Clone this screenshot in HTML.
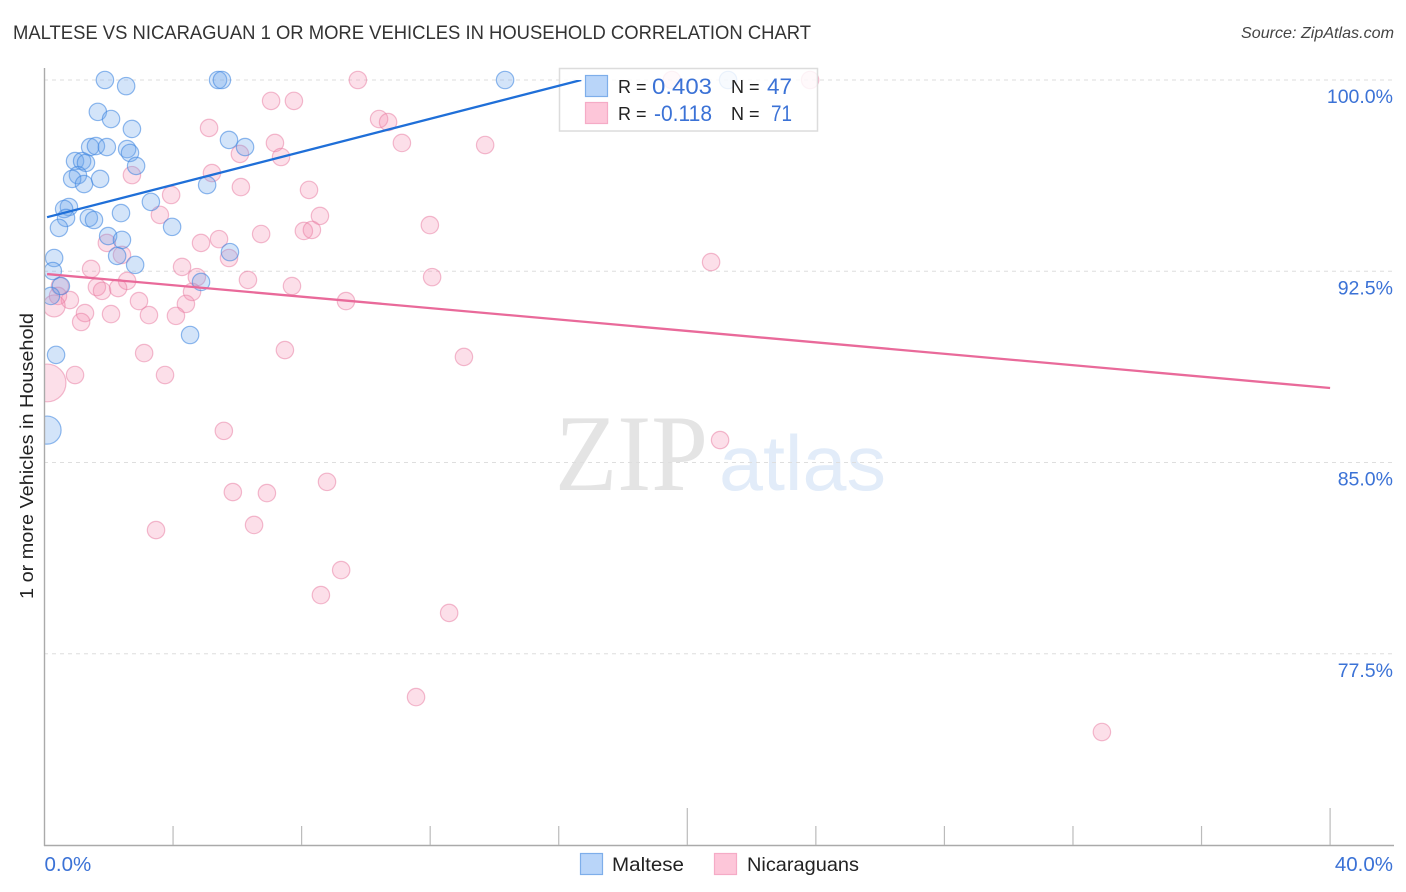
<!DOCTYPE html>
<html lang="en">
<head>
<meta charset="utf-8">
<title>Maltese vs Nicaraguan 1 or More Vehicles in Household Correlation Chart</title>
<style>
  html, body { margin: 0; padding: 0; background: #fff; }
  svg { display: block; font-family: "Liberation Sans", sans-serif; }
</style>
</head>
<body>
<svg id="chart" width="1406" height="892" viewBox="0 0 1406 892" xmlns="http://www.w3.org/2000/svg">
  <defs>
    <clipPath id="plot-clip"><rect x="44" y="60" width="1350" height="785"></rect></clipPath>
    <clipPath id="trend-clip"><rect x="44" y="80" width="1350" height="765"></rect></clipPath>
  </defs>
  <text x="13" y="39" font-size="19" fill="#333" textLength="798" lengthAdjust="spacingAndGlyphs">MALTESE VS NICARAGUAN 1 OR MORE VEHICLES IN HOUSEHOLD CORRELATION CHART</text>
  <text x="1241" y="38" font-size="16" font-style="italic" fill="#444" textLength="153" lengthAdjust="spacingAndGlyphs">Source: ZipAtlas.com</text>

  <g>
    <text x="555" y="490" font-family="'Liberation Serif', serif" font-size="109" fill="#e4e4e4" textLength="153" lengthAdjust="spacingAndGlyphs">ZIP</text>
    <text x="719" y="490" font-size="78" fill="#e2ecf9" textLength="167" lengthAdjust="spacingAndGlyphs">atlas</text>
  </g>

  <g id="grid"></g>
  <g id="points" clip-path="url(#plot-clip)"></g>

  <g>
    <rect x="559.5" y="68.5" width="258" height="62.5" fill="#fff" fill-opacity="0.82" stroke="#dcdcdc" stroke-width="1.5"></rect>
    <rect x="585.5" y="75.5" width="22" height="21" fill="#b9d5f9" stroke="#7eaeea" stroke-width="1.2"></rect>
    <rect x="585.5" y="102.5" width="22" height="21" fill="#fdc6d9" stroke="#f5abc6" stroke-width="1.2"></rect>
    <text x="618" y="93" font-size="18" fill="#222">R =</text>
    <text x="652" y="94" font-size="22" fill="#3b72d6" textLength="60" lengthAdjust="spacingAndGlyphs">0.403</text>
    <text x="731" y="93" font-size="18" fill="#222">N =</text>
    <text x="767" y="94" font-size="22" fill="#3b72d6" textLength="25" lengthAdjust="spacingAndGlyphs">47</text>
    <text x="618" y="120" font-size="18" fill="#222">R =</text>
    <text x="654" y="121" font-size="22" fill="#3b72d6" textLength="58" lengthAdjust="spacingAndGlyphs">-0.118</text>
    <text x="731" y="120" font-size="18" fill="#222">N =</text>
    <text x="771" y="121" font-size="22" fill="#3b72d6" textLength="21" lengthAdjust="spacingAndGlyphs">71</text>
  </g>

  <g id="trends" clip-path="url(#trend-clip)"></g>
  <g id="axes"></g>

  <text transform="translate(33,456) rotate(-90)" font-size="18.5" fill="#222" text-anchor="middle" textLength="286" lengthAdjust="spacingAndGlyphs">1 or more Vehicles in Household</text>

  <g>
    <rect x="580.5" y="853.5" width="22" height="21" fill="#b9d5f9" stroke="#7eaeea" stroke-width="1.2"></rect>
    <text x="612" y="871" font-size="19.5" fill="#222" textLength="72" lengthAdjust="spacingAndGlyphs">Maltese</text>
    <rect x="714.5" y="853.5" width="22" height="21" fill="#fdc6d9" stroke="#f5abc6" stroke-width="1.2"></rect>
    <text x="747" y="871" font-size="19.5" fill="#222" textLength="112" lengthAdjust="spacingAndGlyphs">Nicaraguans</text>
  </g>
</svg>

<script>
const maltesePct = [1.88,2.54,1.66,2.07,2.72,5.40,5.52,14.33,21.27,5.74,6.24,1.42,1.60,1.94,2.57,2.66,2.85,0.95,1.17,1.29,1.04,0.86,1.23,1.73,5.06,3.31,2.38,0.76,0.61,0.67,0.45,1.38,1.54,3.97,1.98,2.41,2.26,2.82,0.30,0.26,5.77,0.51,4.87,0.20,4.53,0.36,0.08];
const malteseVehicles = [100,99.76,98.75,98.47,98.08,100,100,100,100,97.65,97.37,97.37,97.41,97.37,97.29,97.14,96.63,96.82,96.82,96.75,96.27,96.12,95.92,96.12,95.88,95.22,94.78,95.02,94.94,94.59,94.20,94.59,94.51,94.24,93.88,93.73,93.10,92.75,93.02,92.51,93.25,91.92,92.08,91.53,90.00,89.22,86.27];
const malteseWeights = {46: 2.6};

const nicaraguanPct = [2.72,7.05,7.76,5.12,7.17,7.36,6.08,5.21,6.11,3.94,3.59,6.74,4.87,5.43,1.94,2.41,5.74,4.28,1.45,4.74,6.33,7.70,2.57,1.63,1.79,2.29,4.59,0.48,0.42,0.79,2.94,4.40,1.26,2.07,3.25,4.09,1.14,0.30,3.10,7.48,0.08,0.95,3.75,9.75,19.52,23.82,10.41,10.69,11.12,13.71,8.57,11.99,8.23,20.74,9.38,12.06,13.05,5.58,21.02,5.86,6.92,8.79,3.47,6.52,9.23,8.60,12.59,11.56,32.90,8.07,8.32];
const nicaraguanVehicles = [96.27,99.18,99.18,98.12,97.53,96.98,97.10,96.35,95.80,95.49,94.71,93.96,93.61,93.76,93.61,93.14,93.02,92.67,92.59,92.27,92.16,91.92,92.12,91.88,91.73,91.84,91.69,91.92,91.53,91.37,91.33,91.22,90.86,90.82,90.78,90.75,90.51,91.14,89.29,89.41,88.12,88.43,88.43,100,100,100,98.47,98.35,97.53,97.45,94.67,94.31,95.69,92.86,91.33,92.27,89.14,86.24,85.88,83.84,83.80,84.24,82.35,82.55,80.78,79.80,79.10,75.80,74.43,94.08,94.12];
const nicaraguanWeights = {37: 1.6, 40: 4.7};

const malteseTrendX = [0.08, 16.7];
const malteseTrendY = [94.62, 100];
const nicaraguanTrendX = [0.08, 40];
const nicaraguanTrendY = [92.39, 87.92];

const yTickValues = [100, 92.5, 85, 77.5];
const yTickLabels = ["100.0%", "92.5%", "85.0%", "77.5%"];
const xTickValues = [4, 8, 12, 16, 20, 24, 28, 32, 36, 40];
const xMajorTicks = [20, 40];
const xEndValues = [0, 40];
const xEndLabels = ["0.0%", "40.0%"];

const SVG_NS = "http://www.w3.org/2000/svg";
function xScale(v) { return 44.5 + v * 32.14; }
function yScale(v) { return 80 + (100 - v) * 25.5; }
function make(tag, attrs, parent) {
  const el = document.createElementNS(SVG_NS, tag);
  for (const k in attrs) el.setAttribute(k, attrs[k]);
  parent.appendChild(el);
  return el;
}

const gridLayer = document.getElementById("grid");
const axesLayer = document.getElementById("axes");
const pointLayer = document.getElementById("points");
const trendLayer = document.getElementById("trends");

yTickValues.forEach(function (v, i) {
  const line = make("line", {x1: 44, x2: 1394, y1: yScale(v), y2: yScale(v), stroke: "#dedede", "stroke-width": 1, "stroke-dasharray": "4 4"}, gridLayer);
  
  
  const label = make("text", {x: 1393, y: yScale(v) + 23, "font-size": 19.5, fill: "#3b72d6", "text-anchor": "end"}, axesLayer);
  
  
  label.textContent = yTickLabels[i];
});

const yAxis = make("line", {x1: 44.5, x2: 44.5, y1: 68, y2: 846, stroke: "#aaa", "stroke-width": 1.4}, axesLayer);


const xAxis = make("line", {x1: 44, x2: 1394, y1: 845.5, y2: 845.5, stroke: "#aaa", "stroke-width": 1.4}, axesLayer);



xTickValues.forEach(function (v) {
  const top = xMajorTicks.indexOf(v) >= 0 ? 808 : 826;
  const tick = make("line", {x1: xScale(v), x2: xScale(v), y1: top, y2: 845, stroke: "#bbb", "stroke-width": 1.2}, axesLayer);
  
  
});

xEndValues.forEach(function (v, i) {
  const isLast = i === xEndValues.length - 1;
  const label = make("text", {x: isLast ? 1393 : xScale(v), y: 871, "font-size": 20.5, fill: "#3b72d6", "text-anchor": isLast ? "end" : "start"}, axesLayer);
  
  
  label.textContent = xEndLabels[i];
});

function radius(weights, i) {
  const w = weights[i] || 1;
  return 8.7 * Math.sqrt(w);
}

nicaraguanPct.forEach(function (v, i) {
  const dot = make("circle", {cx: xScale(v), cy: yScale(nicaraguanVehicles[i]), r: radius(nicaraguanWeights, i), fill: "#f58bb0", "fill-opacity": 0.28, stroke: "#e8799f", "stroke-opacity": 0.5, "stroke-width": 1.2}, pointLayer);
  
  
});

maltesePct.forEach(function (v, i) {
  const dot = make("circle", {cx: xScale(v), cy: yScale(malteseVehicles[i]), r: radius(malteseWeights, i), fill: "#6ea6ec", "fill-opacity": 0.3, stroke: "#3f86e0", "stroke-opacity": 0.58, "stroke-width": 1.2}, pointLayer);
  
  
});

const pinkLine = make("line", {x1: xScale(nicaraguanTrendX[0]), y1: yScale(nicaraguanTrendY[0]), x2: xScale(nicaraguanTrendX[1]), y2: yScale(nicaraguanTrendY[1]), stroke: "#e96a9a", "stroke-width": 2.3}, trendLayer);



const blueLine = make("line", {x1: xScale(malteseTrendX[0]), y1: yScale(malteseTrendY[0]), x2: xScale(malteseTrendX[1]), y2: yScale(malteseTrendY[1]), stroke: "#1f6fd8", "stroke-width": 2.3}, trendLayer);


</script>
</body>
</html>
